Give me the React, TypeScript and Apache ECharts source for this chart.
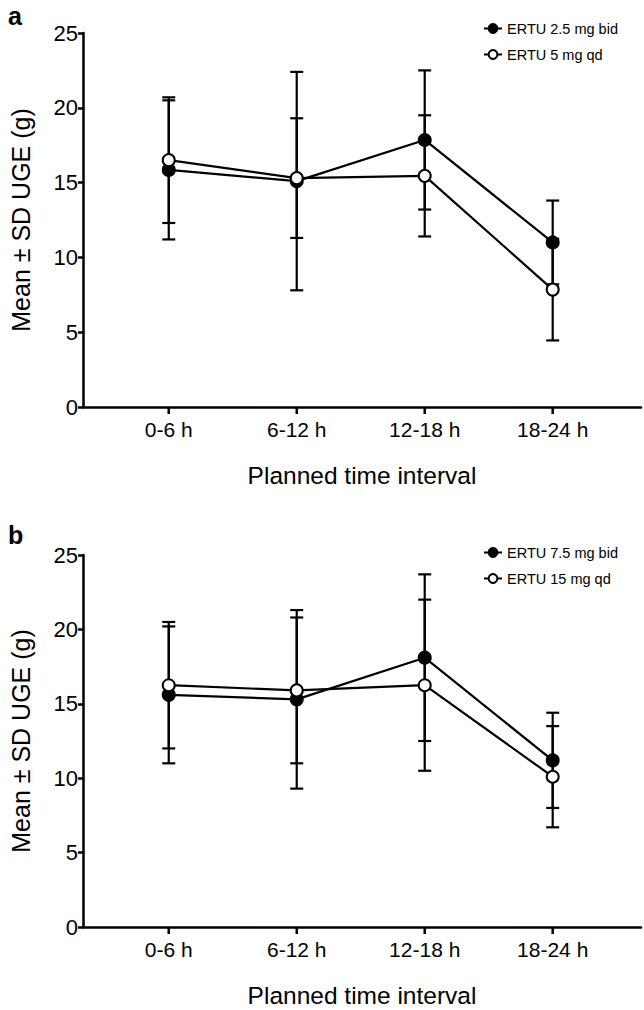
import React, { useEffect, useRef } from "react";
import * as echarts from "echarts";

const categories = ["0-6 h", "6-12 h", "12-18 h", "18-24 h"];
const yTicks = [0, 5, 10, 15, 20, 25];

// Panel a
const aBidName = "ERTU 2.5 mg bid";
const aQdName = "ERTU 5 mg qd";
const aBidMean = [15.85, 15.1, 17.85, 11.0];
const aBidSD = [4.65, 7.3, 4.65, 2.8];
const aQdMean = [16.5, 15.3, 15.45, 7.85];
const aQdSD = [4.2, 4.0, 4.05, 3.4];

// Panel b
const bBidName = "ERTU 7.5 mg bid";
const bQdName = "ERTU 15 mg qd";
const bBidMean = [15.6, 15.3, 18.1, 11.2];
const bBidSD = [4.6, 6.0, 5.6, 3.2];
const bQdMean = [16.25, 15.9, 16.25, 10.1];
const bQdSD = [4.25, 4.9, 5.75, 3.4];

const FONT = "'Liberation Sans', Arial, sans-serif";

function errorSeries(ax: number, means: number[], sds: number[]) {
  const data = means.map((m, i) => [i, m - sds[i], m + sds[i]]);
  return {
    type: "custom",
    xAxisIndex: ax,
    yAxisIndex: ax,
    data,
    silent: true,
    z: 1,
    encode: { x: 0, y: [1, 2] },
    renderItem: (params: any, api: any) => {
      const x = api.value(0);
      const lo = api.coord([x, api.value(1)]);
      const hi = api.coord([x, api.value(2)]);
      const hw = 6.5;
      const style = { stroke: "#000", lineWidth: 2.2 };
      return {
        type: "group",
        children: [
          { type: "line", shape: { x1: lo[0], y1: lo[1], x2: hi[0], y2: hi[1] }, style },
          { type: "line", shape: { x1: lo[0] - hw, y1: lo[1], x2: lo[0] + hw, y2: lo[1] }, style },
          { type: "line", shape: { x1: hi[0] - hw, y1: hi[1], x2: hi[0] + hw, y2: hi[1] }, style },
        ],
      };
    },
  };
}

// category tick marks under the x axis (at each category position)
function tickSeries(ax: number) {
  return {
    type: "custom",
    xAxisIndex: ax,
    yAxisIndex: ax,
    data: categories.map((c, i) => [i, 0]),
    silent: true,
    clip: false,
    z: 5,
    encode: { x: 0, y: 1 },
    renderItem: (params: any, api: any) => {
      const p = api.coord([api.value(0), 0]);
      return {
        type: "line",
        shape: { x1: p[0], y1: p[1], x2: p[0], y2: p[1] + 7 },
        style: { stroke: "#000", lineWidth: 2.5 },
      };
    },
  };
}

function lineSeries(name: string, ax: number, means: number[], filled: boolean, z: number) {
  return {
    type: "line",
    name,
    xAxisIndex: ax,
    yAxisIndex: ax,
    data: means.map((m, i) => [i, m]),
    symbol: "circle",
    symbolSize: 12,
    z,
    lineStyle: { color: "#000", width: 2.2 },
    itemStyle: { color: filled ? "#000" : "#fff", borderColor: "#000", borderWidth: 2 },
  };
}

function xAxis(idx: number) {
  return {
    type: "value",
    gridIndex: idx,
    min: -0.67,
    max: 3.69,
    splitLine: { show: false },
    axisLine: { show: true, onZero: false, lineStyle: { color: "#000", width: 2.5 } },
    axisTick: { show: false },
    axisLabel: {
      customValues: [0, 1, 2, 3],
      formatter: (v: number) => categories[Math.round(v)] ?? "",
      color: "#000",
      fontSize: 21,
      fontFamily: FONT,
      margin: 12,
    },
    name: "Planned time interval",
    nameLocation: "middle",
    nameGap: 56,
    nameTextStyle: { color: "#000", fontSize: 24.5, fontFamily: FONT },
  };
}

function yAxis(idx: number) {
  return {
    type: "value",
    gridIndex: idx,
    min: 0,
    max: 25,
    interval: 5,
    splitLine: { show: false },
    axisLine: { show: true, onZero: false, lineStyle: { color: "#000", width: 2.5 } },
    axisTick: { show: true, length: 5, lineStyle: { color: "#000", width: 2.5 } },
    axisLabel: {
      color: "#000",
      fontSize: 22,
      fontFamily: FONT,
      margin: 5,
      formatter: (v: number) => (yTicks.includes(v) ? String(v) : ""),
    },
    name: "Mean \u00b1 SD UGE (g)",
    nameLocation: "middle",
    nameGap: 50,
    nameTextStyle: { color: "#000", fontSize: 25, fontFamily: FONT },
  };
}

function legend(top: number, names: string[]) {
  return {
    orient: "vertical",
    left: 478,
    top,
    itemWidth: 18,
    itemHeight: 11,
    itemGap: 11,
    data: names,
    textStyle: { color: "#000", fontSize: 14.5, fontFamily: FONT },
  };
}

export default function App() {
  const ref = useRef<HTMLDivElement>(null);
  useEffect(() => {
    document.body.style.margin = "0";
    const chart = echarts.init(ref.current!, null, { renderer: "svg" });
    chart.setOption({
      animation: false,
      backgroundColor: "#fff",
      grid: [
        { left: 77, top: 33, width: 564, height: 374 },
        { left: 77, top: 555, width: 564, height: 372 },
      ],
      xAxis: [xAxis(0), xAxis(1)],
      yAxis: [yAxis(0), yAxis(1)],
      legend: [legend(16, [aBidName, aQdName]), legend(540, [bBidName, bQdName])],
      graphic: [
        { type: "text", left: 8, top: 3, style: { text: "a", fontSize: 25, fontWeight: "bold", fontFamily: FONT, fill: "#000" } },
        { type: "text", left: 8, top: 522, style: { text: "b", fontSize: 25, fontWeight: "bold", fontFamily: FONT, fill: "#000" } },
      ],
      series: [
        tickSeries(0),
        errorSeries(0, aBidMean, aBidSD),
        errorSeries(0, aQdMean, aQdSD),
        lineSeries(aBidName, 0, aBidMean, true, 3),
        lineSeries(aQdName, 0, aQdMean, false, 4),
        tickSeries(1),
        errorSeries(1, bBidMean, bBidSD),
        errorSeries(1, bQdMean, bQdSD),
        lineSeries(bBidName, 1, bBidMean, true, 3),
        lineSeries(bQdName, 1, bQdMean, false, 4),
      ],
    });
    return () => chart.dispose();
  }, []);
  return <div ref={ref} style={{ width: 644, height: 1010 }} />;
}
